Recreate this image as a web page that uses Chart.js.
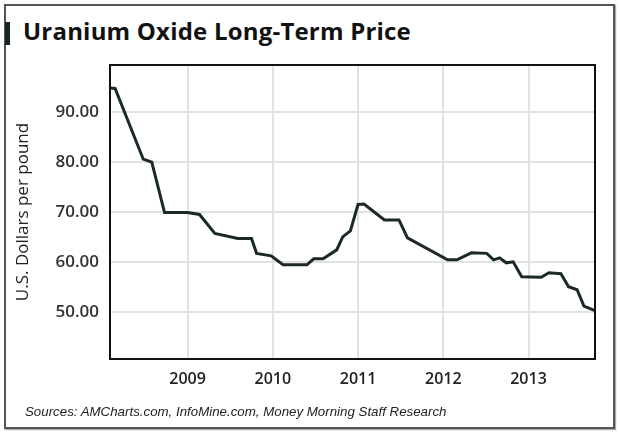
<!DOCTYPE html>
<html>
<head>
<meta charset="utf-8">
<script src="https://cdn.jsdelivr.net/npm/chart.js@4/dist/chart.umd.min.js"></script>
<style>
  html, body { margin: 0; padding: 0; background: #fff; }
  #wrap { position: relative; width: 620px; height: 436px; overflow: hidden; }
  #frame { position: absolute; left: 4px; top: 4px; width: 607px; height: 421px;
           border: 2px solid #555; box-shadow: 1px 1px 1px #aaa; }
  #bar { position: absolute; left: 5px; top: 22px; width: 5px; height: 23px; background: #17261f; }
  #title { position: absolute; left: 23px; top: 14px; font: bold 24px "Open Sans", sans-serif; color: #111; white-space: nowrap; letter-spacing: 0.2px; }
  #source { position: absolute; left: 25px; top: 404px; font: italic 13.3px "Liberation Sans", sans-serif; color: #222; white-space: nowrap; }
  canvas { position: absolute; left: 0; top: 0; }
</style>
</head>
<body>
<div id="wrap">
  <div id="frame"></div>
  <div id="bar"></div>
  <div id="title">Uranium Oxide Long-Term Price</div>
  <canvas id="line-chart" width="620" height="436"></canvas>
  <div id="source">Sources: AMCharts.com, InfoMine.com, Money Morning Staff Research</div>
</div>
<script>
// dates as decimal years, prices in US$ per pound
var years = [2008.09, 2008.15, 2008.48, 2008.58, 2008.73, 2009.00, 2009.14, 2009.32, 2009.59, 2009.75,
             2009.81, 2009.98, 2010.12, 2010.40, 2010.48, 2010.59, 2010.75, 2010.82, 2010.91, 2011.00,
             2011.07, 2011.31, 2011.48, 2011.58, 2012.05, 2012.16, 2012.33, 2012.51, 2012.59, 2012.66,
             2012.74, 2012.82, 2012.92, 2013.15, 2013.24, 2013.38, 2013.47, 2013.57, 2013.65, 2013.78];
var prices = [94.9, 94.8, 80.6, 80.0, 69.9, 69.9, 69.5, 65.7, 64.7, 64.7,
              61.7, 61.2, 59.4, 59.4, 60.6, 60.6, 62.4, 65.0, 66.2, 71.5,
              71.6, 68.4, 68.4, 64.8, 60.4, 60.4, 61.8, 61.7, 60.4, 60.8,
              59.8, 60.0, 57.0, 56.9, 57.8, 57.6, 55.0, 54.4, 51.1, 50.2];
var yearTicks = [2009, 2010, 2011, 2012, 2013];
var priceTicks = [50, 60, 70, 80, 90];

var points = years.map(function(y, i) { return {x: y, y: prices[i]}; });

// chart.js only draws left/bottom border, so box the plot area
var boxPlugin = {
  id: 'box',
  afterDraw: function(chart) {
    var a = chart.chartArea, ctx = chart.ctx;
    ctx.save();
    ctx.strokeStyle = '#111';
    ctx.lineWidth = 2;
    ctx.strokeRect(a.left, a.top, a.right - a.left, a.bottom - a.top);
    ctx.restore();
  }
};

new Chart(document.getElementById("line-chart"), {
  type: 'line',
  data: {
    datasets: [{
      data: points,
      borderColor: "#1b2a23",
      borderWidth: 3,
      pointRadius: 0,
      tension: 0,
      fill: false
    }]
  },
  options: {
    responsive: false,
    animation: false,
    layout: {padding: {left: 0, right: 25, top: 65, bottom: 41}},
    plugins: {legend: {display: false}, tooltip: {enabled: false}},
    scales: {
      x: {
        type: 'linear',
        min: 2008.09,
        max: 2013.78,
        afterBuildTicks: function(s) { s.ticks = yearTicks.map(function(v) { return {value: v}; }); },
        afterFit: function(s) { s.height = 36; },
        grid: {color: '#e2e2e2', lineWidth: 2, drawTicks: false},
        border: {display: false},
        ticks: {
          padding: 11,
          color: '#222',
          font: {family: 'Open Sans', size: 16, weight: '600'},
          maxRotation: 0,
          callback: function(v) { return String(v); }
        }
      },
      y: {
        min: 40.5,
        max: 99.5,
        afterBuildTicks: function(s) { s.ticks = priceTicks.map(function(v) { return {value: v}; }); },
        afterFit: function(s) { s.width = 110; },
        grid: {color: '#e2e2e2', lineWidth: 2, drawTicks: false},
        border: {display: false},
        ticks: {
          padding: 11,
          color: '#333',
          font: {family: 'Open Sans', size: 17, weight: '600'},
          callback: function(v) { return v.toFixed(2); }
        },
        title: {
          display: true,
          text: 'U.S. Dollars per pound',
          color: '#222',
          font: {family: 'Open Sans', size: 17},
          padding: {top: 13, bottom: 0}
        }
      }
    }
  },
  plugins: [boxPlugin]
});
</script>
</body>
</html>
